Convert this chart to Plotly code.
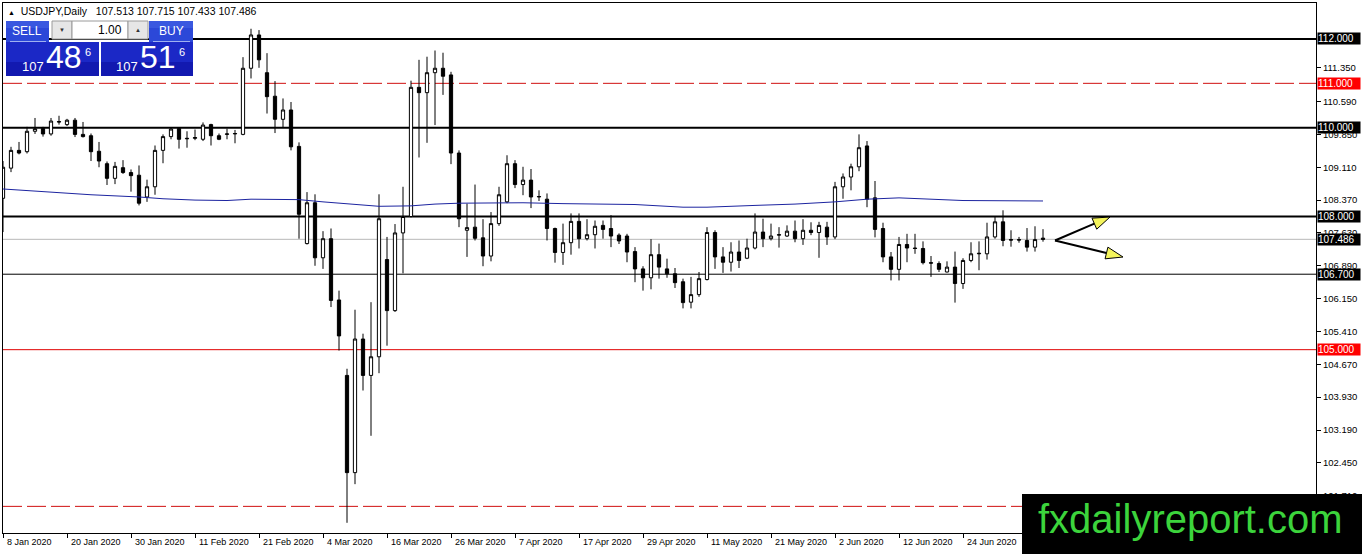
import math
import pandas as pd
import plotly.graph_objects as go

# daily bars, 8 Jan 2020 .. 8 Jul 2020 (forex trades every weekday)
dates = pd.bdate_range("2020-01-08", "2020-07-08").strftime("%Y-%m-%d").tolist()

opens = [108.41, 109.09, 109.49, 109.46, 109.92, 109.98, 109.86, 110.14, 110.07, 110.17,
         109.85, 109.82, 109.47, 109.19, 108.86, 109.10, 108.99, 108.93, 108.44, 108.67,
         109.49, 109.80, 109.98, 109.75, 109.76, 109.74, 110.07, 109.82, 109.85, 109.86,
         109.85, 111.34, 112.09, 111.24, 110.71, 110.19, 110.40, 109.58, 107.39, 108.31,
         107.07, 107.50, 106.12, 104.42, 102.23, 105.24, 104.42, 104.84, 107.03, 105.88,
         107.63, 108.00, 110.91, 110.79, 111.24, 111.34, 111.19, 109.43, 107.69, 107.76,
         107.52, 107.11, 107.84, 108.33, 109.19, 108.72, 108.82, 108.44, 108.39, 107.73,
         107.19, 107.41, 107.89, 107.50, 107.59, 107.80, 107.73, 107.58, 107.56, 107.21,
         106.82, 106.62, 107.14, 106.82, 106.71, 106.53, 106.07, 106.24, 106.58, 107.64,
         107.09, 106.97, 107.20, 107.06, 107.29, 107.65, 107.50, 107.58, 107.56, 107.67,
         107.50, 107.69, 107.64, 107.76, 107.54, 108.67, 108.89, 109.12, 109.59, 108.42,
         107.73, 107.09, 106.81, 107.37, 107.29, 107.28, 106.96, 106.94, 106.75, 106.86,
         106.49, 107.01, 107.16, 107.16, 107.54, 107.88, 107.48, 107.48, 107.46, 107.31,
         107.513]
highs = [109.25, 109.57, 109.68, 110.02, 110.22, 110.02, 110.22, 110.27, 110.20, 110.22,
         110.13, 109.87, 109.68, 109.24, 109.23, 109.27, 109.06, 109.15, 108.83, 109.60,
         109.85, 110.00, 110.00, 109.92, 109.96, 110.12, 110.09, 109.87, 109.98, 109.95,
         111.59, 112.23, 112.20, 111.68, 111.05, 110.66, 110.58, 109.67, 108.55, 108.50,
         107.67, 107.73, 106.33, 104.57, 105.90, 105.36, 106.07, 108.50, 107.54, 107.83,
         108.67, 111.06, 111.53, 111.60, 111.74, 111.69, 111.26, 109.49, 108.29, 108.72,
         107.94, 108.10, 108.67, 109.38, 109.27, 109.12, 109.07, 108.59, 108.52, 107.75,
         107.84, 108.07, 108.07, 107.94, 107.91, 107.91, 108.03, 107.62, 107.61, 107.31,
         106.88, 107.49, 107.39, 107.05, 106.84, 106.60, 106.64, 106.75, 107.76, 107.69,
         107.31, 107.42, 107.46, 107.50, 108.07, 107.95, 107.84, 107.76, 107.80, 107.91,
         107.94, 107.87, 107.88, 107.88, 108.78, 108.97, 109.19, 109.85, 109.70, 108.80,
         107.86, 107.20, 107.54, 107.61, 107.61, 107.44, 107.11, 106.99, 106.99, 107.21,
         107.06, 107.42, 107.44, 107.86, 107.99, 108.14, 107.69, 107.54, 107.74, 107.78,
         107.715]
lows = [107.65, 109.00, 109.40, 109.42, 109.86, 109.80, 109.82, 110.07, 110.04, 109.79,
        109.78, 109.25, 109.11, 108.71, 108.73, 108.96, 108.56, 108.25, 108.33, 108.49,
        109.20, 109.74, 109.53, 109.55, 109.72, 109.70, 109.60, 109.72, 109.74, 109.65,
        109.83, 111.11, 111.35, 110.32, 109.88, 110.00, 109.49, 107.50, 107.37, 106.89,
        106.82, 105.96, 104.98, 101.10, 101.97, 104.08, 103.06, 104.47, 105.09, 105.85,
        106.72, 107.98, 109.33, 109.66, 110.06, 110.74, 109.18, 107.76, 107.09, 107.46,
        106.88, 106.99, 107.79, 108.30, 108.64, 108.48, 108.19, 108.35, 107.46, 106.96,
        106.91, 107.14, 107.28, 107.46, 107.28, 107.50, 107.31, 107.38, 106.97, 106.52,
        106.33, 106.36, 106.60, 106.62, 106.39, 105.93, 105.93, 106.19, 106.56, 106.82,
        106.73, 106.76, 106.84, 107.04, 107.26, 107.31, 107.46, 107.30, 107.54, 107.42,
        107.36, 107.58, 107.07, 107.36, 107.49, 108.40, 108.59, 109.02, 108.21, 107.53,
        106.97, 106.56, 106.56, 106.97, 107.16, 106.92, 106.64, 106.75, 106.74, 106.06,
        106.37, 106.97, 106.79, 107.03, 107.50, 107.33, 107.32, 107.41, 107.21, 107.21,
        107.433]
closes = [109.11, 109.49, 109.43, 109.92, 109.98, 109.86, 110.15, 110.13, 110.17, 109.85,
          109.80, 109.46, 109.25, 108.86, 109.13, 108.99, 108.92, 108.30, 108.67, 109.49,
          109.80, 109.97, 109.74, 109.76, 109.78, 110.06, 109.82, 109.74, 109.86, 109.87,
          111.34, 112.09, 111.53, 110.70, 110.19, 110.40, 109.57, 108.05, 108.31, 107.07,
          107.50, 106.11, 105.31, 102.23, 105.24, 104.42, 104.84, 107.95, 105.88, 107.63,
          108.00, 110.91, 110.79, 111.24, 111.34, 111.16, 109.43, 107.95, 107.75, 107.51,
          107.11, 107.84, 108.49, 109.19, 108.72, 108.82, 108.44, 108.45, 107.73, 107.19,
          107.41, 107.89, 107.50, 107.59, 107.78, 107.71, 107.56, 107.45, 107.20, 106.82,
          106.62, 107.14, 106.86, 106.71, 106.51, 106.06, 106.24, 106.60, 107.64, 107.09,
          106.97, 107.20, 107.01, 107.29, 107.65, 107.50, 107.56, 107.59, 107.67, 107.50,
          107.69, 107.64, 107.80, 107.54, 108.67, 108.89, 109.12, 109.55, 108.39, 107.71,
          107.09, 106.81, 107.37, 107.29, 107.28, 106.96, 106.95, 106.81, 106.86, 106.49,
          107.01, 107.16, 107.17, 107.54, 107.88, 107.46, 107.47, 107.47, 107.31, 107.48,
          107.486]

# blue moving average at these bars
ma_dates = ["2020-01-08", "2020-01-16", "2020-01-23", "2020-01-31", "2020-02-05", "2020-02-11",
            "2020-02-17", "2020-02-20", "2020-02-28", "2020-03-04", "2020-03-10", "2020-03-13",
            "2020-03-19", "2020-03-24", "2020-03-27", "2020-04-08", "2020-04-15", "2020-04-28",
            "2020-05-06", "2020-05-11", "2020-05-19", "2020-05-26", "2020-06-02", "2020-06-08",
            "2020-06-12", "2020-06-24", "2020-07-08"]
ma_values = [108.62, 108.55, 108.49, 108.44, 108.40, 108.37, 108.36, 108.39, 108.38, 108.33,
             108.27, 108.23, 108.24, 108.28, 108.30, 108.31, 108.29, 108.27, 108.21, 108.21,
             108.25, 108.28, 108.33, 108.39, 108.42, 108.36, 108.35]

tick_dates = ["2020-01-08", "2020-01-20", "2020-01-30", "2020-02-11", "2020-02-21", "2020-03-04",
              "2020-03-16", "2020-03-26", "2020-04-07", "2020-04-17", "2020-04-29", "2020-05-11",
              "2020-05-21", "2020-06-02", "2020-06-12", "2020-06-24"]
tick_labels = ["8 Jan 2020", "20 Jan 2020", "30 Jan 2020", "11 Feb 2020", "21 Feb 2020", "4 Mar 2020",
               "16 Mar 2020", "26 Mar 2020", "7 Apr 2020", "17 Apr 2020", "29 Apr 2020", "11 May 2020",
               "21 May 2020", "2 Jun 2020", "12 Jun 2020", "24 Jun 2020"]

price_ticks = [111.35, 110.59, 109.85, 109.11, 108.37, 107.63, 106.89, 106.15,
               105.41, 104.67, 103.93, 103.19, 102.45, 101.71]

level_prices = [112.0, 111.0, 110.0, 108.0, 106.7, 105.0, 101.47]
level_kinds = ["major", "red_dash", "major", "major", "minor", "red", "red_dash"]
bid = 107.486

# ---- page geometry (pixels)
W, H = 1362, 554
ML, MR, MT, MB = 3, 46, 3, 21
PW, PH = W - ML - MR, H - MT - MB
FONT = "Liberation Sans, Arial, sans-serif"


def fx(px):
    return (px - ML) / PW


def fy(py):
    return (H - MB - py) / PH


fig = go.Figure()

fig.add_trace(go.Candlestick(
    x=dates, open=opens, high=highs, low=lows, close=closes,
    increasing=dict(line=dict(color="black", width=1), fillcolor="white"),
    decreasing=dict(line=dict(color="black", width=1), fillcolor="black"),
    whiskerwidth=0, hoverinfo="skip", showlegend=False))
fig.add_trace(go.Scatter(x=ma_dates, y=ma_values, mode="lines",
                         line=dict(color="#1c24a0", width=1), hoverinfo="skip",
                         showlegend=False))

styles = {
    "major": dict(color="black", width=2, dash="solid"),
    "minor": dict(color="black", width=1, dash="solid"),
    "red": dict(color="#e00000", width=1, dash="solid"),
    "red_dash": dict(color="#d01010", width=1, dash="19px,5px"),
}
for p, kind in zip(level_prices, level_kinds):
    fig.add_shape(type="line", xref="paper", x0=0, x1=1, yref="y", y0=p, y1=p,
                  line=styles[kind], layer="below")
fig.add_shape(type="line", xref="paper", x0=0, x1=1, yref="y", y0=bid, y1=bid,
              line=dict(color="#b8b8b8", width=1), layer="below")

annotations = []

# price boxes on the right scale
for p, kind in zip(level_prices, level_kinds):
    if p < 102:
        continue
    bg = "#ff0000" if kind.startswith("red") else "black"
    annotations.append(dict(xref="paper", x=1, xanchor="left", xshift=1, yref="y", y=p,
                            text=f"{p:.3f}", showarrow=False, bgcolor=bg, width=42, height=11,
                            align="left", borderpad=0,
                            font=dict(family=FONT, size=10, color="white")))
annotations.append(dict(xref="paper", x=1, xanchor="left", xshift=1, yref="y", y=bid,
                        text=f"{bid:.3f}", showarrow=False, bgcolor="black", width=42, height=11,
                        align="left", borderpad=0,
                        font=dict(family=FONT, size=10, color="white")))

# date labels, left aligned at their tick like MT4
for d, lab in zip(tick_dates, tick_labels):
    annotations.append(dict(xref="x", x=d, xanchor="left", xshift=2, yref="paper", y=0,
                            yanchor="top", yshift=-2, text=lab, showarrow=False,
                            font=dict(family=FONT, size=9, color="black")))

# header line
annotations.append(dict(xref="paper", yref="paper", x=fx(6), y=fy(11), xanchor="left",
                        yanchor="middle", showarrow=False,
                        text="<span style='font-size:7px'>▲</span>  USDJPY,Daily   "
                             f"{opens[-1]:.3f} {highs[-1]:.3f} {lows[-1]:.3f} {closes[-1]:.3f}",
                        font=dict(family=FONT, size=10.5, color="black")))


# ---- one-click trading panel
def rect(x0, y0, x1, y1, fill, line=None):
    fig.add_shape(type="rect", xref="paper", yref="paper", x0=fx(x0), x1=fx(x1),
                  y0=fy(y1), y1=fy(y0), fillcolor=fill, layer="above",
                  line=dict(width=1 if line else 0, color=line or fill))


rect(6, 21, 49, 42, "#2c48d8")
rect(149, 21, 193, 42, "#2c48d8")
rect(6, 21, 49, 28, "#3a58e0")
rect(149, 21, 193, 28, "#3a58e0")
rect(52, 21, 72, 39, "#e6e6e6", "#9a9a9a")
rect(72, 21, 128, 39, "white", "#9a9a9a")
rect(128, 21, 148, 39, "#e6e6e6", "#9a9a9a")
rect(6, 42, 99, 76, "#1b28c6")
rect(101, 42, 193, 76, "#1b28c6")
rect(6, 62, 99, 76, "#1219b0")
rect(101, 62, 193, 76, "#1219b0")
for a, b in [(10, 46), (153, 190)]:
    fig.add_shape(type="line", xref="paper", yref="paper", x0=fx(a), x1=fx(b),
                  y0=fy(41.5), y1=fy(41.5), line=dict(color="#9fb0f0", width=1), layer="above")


def label(x, y, text, size, color="white", anchor="center"):
    annotations.append(dict(xref="paper", yref="paper", x=fx(x), y=fy(y), xanchor=anchor,
                            yanchor="middle", text=text, showarrow=False,
                            font=dict(family=FONT, size=size, color=color)))


label(27.5, 31, "SELL", 12)
label(171, 31, "BUY", 12)
label(124, 30, "1.00", 12, "black", "right")
label(62, 30, "▼", 6, "#333333")
label(138, 30, "▲", 6, "#333333")
label(33, 67, "107", 13)
label(64, 57, "48", 32)
label(88, 52, "6", 11)
label(127, 67, "107", 13)
label(158, 57, "51", 32)
label(182, 52, "6", 11)


# ---- hand drawn arrows at the right of the last bar
def arrow(sx, sy, tx, ty, head=17, half=6):
    d = math.hypot(tx - sx, ty - sy)
    ux, uy = (tx - sx) / d, (ty - sy) / d
    bx, by = tx - ux * head, ty - uy * head
    fig.add_shape(type="line", xref="paper", yref="paper", x0=fx(sx), y0=fy(sy),
                  x1=fx(bx), y1=fy(by), line=dict(color="black", width=2), layer="above")
    p1 = (bx - uy * half, by + ux * half)
    p2 = (bx + uy * half, by - ux * half)
    path = (f"M {fx(tx)},{fy(ty)} L {fx(p1[0])},{fy(p1[1])} "
            f"L {fx(p2[0])},{fy(p2[1])} Z")
    fig.add_shape(type="path", xref="paper", yref="paper", path=path,
                  fillcolor="#f4f45c", line=dict(color="black", width=1), layer="above")


arrow(1055, 240.5, 1110, 217)
arrow(1055, 240.5, 1123, 257)

# ---- watermark box
rect(1022, 494, 1362, 554, "black")
label(1190, 519, "fxdailyreport.com", 40, "#3cd43c")

fig.update_layout(
    width=W, height=H, autosize=False,
    margin=dict(l=ML, r=MR, t=MT, b=MB, pad=0),
    paper_bgcolor="white", plot_bgcolor="white",
    boxgap=0.42, showlegend=False, hovermode=False,
    annotations=annotations,
    xaxis=dict(type="category", categoryorder="array", categoryarray=dates,
               range=[0, PW / 8], showgrid=False, zeroline=False,
               rangeslider=dict(visible=False), showline=True, mirror=True,
               linecolor="black", linewidth=1, ticks="outside", ticklen=4,
               tickcolor="black", tickvals=tick_dates, showticklabels=False),
    yaxis=dict(side="right", range=[100.87, 112.81], showgrid=False, zeroline=False,
               showline=True, mirror=True, linecolor="black", linewidth=1,
               ticks="outside", ticklen=4, tickcolor="black",
               tickvals=price_ticks, ticktext=[f"{v:.3f}" for v in price_ticks],
               tickfont=dict(family=FONT, size=9.5, color="black")),
)

fig.write_html("out.html", config={"displayModeBar": False},
               post_script="document.body.style.margin='0';")
